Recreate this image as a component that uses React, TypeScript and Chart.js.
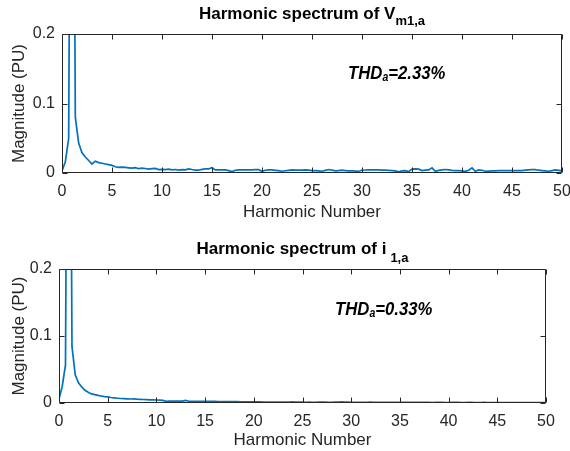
import React, { useEffect, useRef } from "react";
import { Chart, registerables } from "chart.js";

Chart.register(...registerables);

// Spectrum sampled at 1/3 harmonic resolution (3 samples per harmonic), 0..50
const SAMPLES_PER_HARMONIC = 3;

const X_MIN = 0;
const X_MAX = 50;
const X_STEP = 5;
const Y_MIN = 0;
const Y_MAX = 0.2;
const Y_STEP = 0.1;

// Harmonic spectrum of V_m1,a (per-unit magnitudes)
const vSpectrum = [
  0.003, 0.016, 0.05,
  1.0, 0.08, 0.043,
  0.029, 0.023, 0.018,
  0.013, 0.017, 0.015,
  0.014, 0.013, 0.012,
  0.011, 0.009, 0.008,
  0.0085, 0.008, 0.0075,
  0.007, 0.0078, 0.0062,
  0.007, 0.0065, 0.0055,
  0.0062, 0.0066, 0.005,
  0.0052, 0.0048, 0.0056,
  0.0045, 0.005, 0.0042,
  0.0048, 0.0045, 0.006,
  0.005, 0.0042, 0.004,
  0.0052, 0.0058, 0.006,
  0.0075, 0.0045, 0.0045,
  0.0045, 0.0044, 0.0035,
  0.002, 0.004, 0.0045,
  0.0046, 0.0044, 0.0045,
  0.0046, 0.005, 0.0048,
  0.0025, 0.004, 0.0045,
  0.0044, 0.0038, 0.0033,
  0.0025, 0.0032, 0.0038,
  0.0045, 0.0042, 0.004,
  0.0042, 0.0045, 0.004,
  0.0035, 0.0035, 0.003,
  0.0025, 0.0038, 0.005,
  0.0042, 0.003, 0.0035,
  0.004, 0.0035, 0.003,
  0.0032, 0.0028, 0.0025,
  0.004, 0.0043, 0.0045,
  0.0044, 0.0046, 0.0044,
  0.0042, 0.004, 0.0038,
  0.0035, 0.003, 0.0018,
  0.003, 0.0035, 0.002,
  0.0055, 0.006, 0.0055,
  0.0035, 0.004, 0.0045,
  0.0075, 0.0025, 0.0038,
  0.0045, 0.005, 0.0045,
  0.0038, 0.0035, 0.0034,
  0.003, 0.0025, 0.004,
  0.0075, 0.0025, 0.0045,
  0.004, 0.0025, 0.0028,
  0.003, 0.0032, 0.0033,
  0.0035, 0.0034, 0.0035,
  0.0035, 0.0036, 0.0035,
  0.0035, 0.004, 0.0045,
  0.005, 0.0048, 0.004,
  0.0035, 0.003, 0.0025,
  0.0035, 0.0045, 0.0038,
  0.003,
];

// Harmonic spectrum of i_1,a (per-unit magnitudes)
const iSpectrum = [
  0.006, 0.025, 0.057,
  1.0, 0.084, 0.042,
  0.03, 0.024, 0.019,
  0.016, 0.0135, 0.0125,
  0.0113, 0.0104, 0.0095,
  0.0092, 0.0082, 0.0076,
  0.0071, 0.0067, 0.0064,
  0.0062, 0.006, 0.0061,
  0.0057, 0.0055, 0.0052,
  0.005, 0.0048, 0.0046,
  0.0045, 0.0043, 0.0038,
  0.0025, 0.0027, 0.0028,
  0.0028, 0.0027, 0.0029,
  0.0038, 0.0026, 0.0025,
  0.0026, 0.0025, 0.0025,
  0.0024, 0.0024, 0.0023,
  0.0023, 0.0022, 0.0022,
  0.0021, 0.0021, 0.002,
  0.002, 0.002, 0.0019,
  0.0019, 0.0018, 0.0018,
  0.0018, 0.0017, 0.0016,
  0.0015, 0.0014, 0.0013,
  0.0013, 0.0012, 0.0013,
  0.0014, 0.0015, 0.0014,
  0.0016, 0.0014, 0.0013,
  0.0012, 0.0011, 0.0012,
  0.0011, 0.001, 0.0012,
  0.0013, 0.0012, 0.0011,
  0.001, 0.0012, 0.0015,
  0.0016, 0.0014, 0.0012,
  0.0011, 0.001, 0.0009,
  0.0009, 0.001, 0.0011,
  0.0012, 0.0011, 0.0009,
  0.0008, 0.0009, 0.001,
  0.0011, 0.001, 0.0009,
  0.0008, 0.0008, 0.0009,
  0.001, 0.0009, 0.0008,
  0.0008, 0.0009, 0.0009,
  0.0008, 0.0007, 0.0008,
  0.0009, 0.0008, 0.0007,
  0.0007, 0.0008, 0.0009,
  0.0008, 0.0007, 0.0007,
  0.0008, 0.0008, 0.0007,
  0.0006, 0.0007, 0.0008,
  0.0007, 0.0006, 0.0007,
  0.0007, 0.0007, 0.0006,
  0.0006, 0.0007, 0.0006,
  0.0006, 0.0006, 0.0007,
  0.0006, 0.0005, 0.0006,
  0.0006, 0.0006, 0.0005,
  0.0005,
];

const X_LABEL = "Harmonic Number";
const Y_LABEL = "Magnitude (PU)";
const THD_V = "=2.33%";
const THD_I = "=0.33%";

const LINE_COLOR = "#0072BD";
const AXIS_COLOR = "#262626";
const FONT = '"Liberation Sans", Arial, Helvetica, sans-serif';

const boxPlugin = {
  id: "matlabBox",
  afterDatasetsDraw(chart: any) {
    const { ctx, chartArea } = chart;
    const { left, right, top, bottom } = chartArea;
    const xs = chart.scales.x;
    const ys = chart.scales.y;
    const L = Math.round(left) + 0.5;
    const R = Math.round(right) - 0.5;
    const T = Math.round(top) + 0.5;
    const B = Math.round(bottom) - 0.5;
    const len = 5;
    ctx.save();
    ctx.strokeStyle = AXIS_COLOR;
    ctx.lineWidth = 1;
    ctx.beginPath();
    ctx.rect(L, T, R - L, B - T);
    for (const t of xs.ticks) {
      const px = Math.round(xs.getPixelForValue(t.value)) + 0.5;
      ctx.moveTo(px, B);
      ctx.lineTo(px, B - len);
      ctx.moveTo(px, T);
      ctx.lineTo(px, T + len);
    }
    for (const t of ys.ticks) {
      const py = Math.round(ys.getPixelForValue(t.value)) + 0.5;
      ctx.moveTo(L, py);
      ctx.lineTo(L + len, py);
      ctx.moveTo(R, py);
      ctx.lineTo(R - len, py);
    }
    ctx.stroke();
    ctx.restore();
  },
};

type Frame = { left: number; right: number; top: number; bottom: number };

function makeConfig(values: number[], frame: Frame, height: number, xTitlePad: number): any {
  const data = values.map((v, i) => ({ x: i / SAMPLES_PER_HARMONIC, y: v }));
  return {
    type: "line",
    data: {
      datasets: [
        {
          data,
          borderColor: LINE_COLOR,
          borderWidth: 1.7,
          pointRadius: 0,
          tension: 0,
          fill: false,
        },
      ],
    },
    plugins: [boxPlugin],
    options: {
      animation: false,
      responsive: false,
      devicePixelRatio: 1,
      layout: {
        padding: { top: frame.top, right: 570 - frame.right, bottom: 0, left: 0 },
      },
      plugins: { legend: { display: false }, tooltip: { enabled: false }, title: { display: false } },
      scales: {
        x: {
          type: "linear",
          min: X_MIN,
          max: X_MAX,
          grid: { display: false, drawTicks: false },
          border: { display: false },
          ticks: {
            stepSize: X_STEP,
            padding: 9,
            color: AXIS_COLOR,
            font: { family: FONT, size: 16 },
            maxRotation: 0,
          },
          title: {
            display: true,
            text: X_LABEL,
            color: AXIS_COLOR,
            font: { family: FONT, size: 17 },
            padding: { top: 0, bottom: xTitlePad },
          },
          afterFit(scale: any) {
            scale.height = height - frame.bottom;
            scale.paddingLeft = 0;
            scale.paddingRight = 0;
          },
        },
        y: {
          type: "linear",
          min: Y_MIN,
          max: Y_MAX,
          grid: { display: false, drawTicks: false },
          border: { display: false },
          ticks: {
            stepSize: Y_STEP,
            padding: 7,
            color: AXIS_COLOR,
            font: { family: FONT, size: 16 },
          },
          title: {
            display: true,
            text: Y_LABEL,
            color: AXIS_COLOR,
            font: { family: FONT, size: 17 },
            padding: { top: 9, bottom: 0 },
          },
          afterFit(scale: any) {
            scale.width = frame.left;
            scale.paddingTop = 0;
            scale.paddingBottom = 0;
          },
        },
      },
    },
  };
}

function SpectrumChart({
  values,
  frame,
  top,
  height,
  xTitlePad,
}: {
  values: number[];
  frame: Frame;
  top: number;
  height: number;
  xTitlePad: number;
}) {
  const ref = useRef<HTMLCanvasElement | null>(null);
  useEffect(() => {
    if (!ref.current) return;
    const chart = new Chart(ref.current, makeConfig(values, frame, height, xTitlePad));
    return () => chart.destroy();
  }, []);
  return (
    <canvas
      ref={ref}
      width={570}
      height={height}
      style={{ position: "absolute", left: 0, top, width: 570, height, display: "block" }}
    />
  );
}

const titleStyle: React.CSSProperties = {
  position: "absolute",
  textAlign: "center",
  font: `bold 17px ${FONT}`,
  lineHeight: "17px",
  color: "#000",
  whiteSpace: "nowrap",
};

const subStyle: React.CSSProperties = {
  fontSize: 13,
  lineHeight: 0,
  verticalAlign: "-6px",
};

const thdStyle: React.CSSProperties = {
  position: "absolute",
  font: `italic bold 19px ${FONT}`,
  lineHeight: "19px",
  color: "#000",
  whiteSpace: "nowrap",
  transform: "scaleX(0.88)",
  transformOrigin: "left center",
};

const thdSub: React.CSSProperties = {
  fontSize: 12,
  lineHeight: 0,
  verticalAlign: "-2px",
};

export default function App() {
  const frame1: Frame = { left: 62, right: 562, top: 34, bottom: 173 };
  const frame2: Frame = { left: 59, right: 546, top: 44, bottom: 178 };
  return (
    <div style={{ position: "fixed", left: 0, top: 0, width: 570, height: 451, background: "#fff", overflow: "hidden" }}>
      <SpectrumChart values={vSpectrum} frame={frame1} top={0} height={225} xTitlePad={2} />
      <SpectrumChart values={iSpectrum} frame={frame2} top={225} height={226} xTitlePad={0} />
      <div style={{ ...titleStyle, left: 62, width: 500, top: 5 }}>
        Harmonic spectrum of V<sub style={subStyle}>m1,a</sub>
      </div>
      <div style={{ ...titleStyle, left: 59, width: 487, top: 240 }}>
        Harmonic spectrum of i<sub style={{ ...subStyle, verticalAlign: "-8px", marginLeft: 4 }}>1,a</sub>
      </div>
      <div style={{ ...thdStyle, left: 348, top: 63 }}>
        THD<sub style={thdSub}>a</sub>{THD_V}
      </div>
      <div style={{ ...thdStyle, left: 335, top: 299 }}>
        THD<sub style={thdSub}>a</sub>{THD_I}
      </div>
    </div>
  );
}
